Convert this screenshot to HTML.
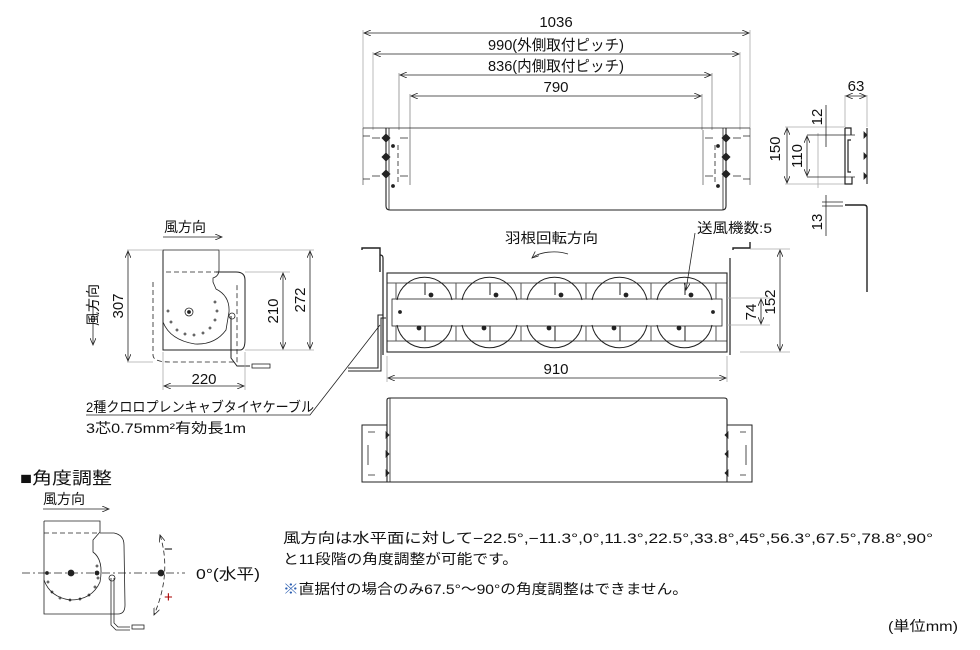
<!DOCTYPE html>
<html><head><meta charset="utf-8"><style>
html,body{margin:0;padding:0;background:#fff}
svg{display:block}
text{font-family:"Liberation Sans","Noto Sans CJK JP",sans-serif;fill:#111}
</style></head><body>
<svg width="980" height="650" viewBox="0 0 980 650" xmlns="http://www.w3.org/2000/svg">
<defs>
<marker id="a" markerWidth="8" markerHeight="6" refX="7" refY="3" orient="auto-start-reverse" markerUnits="userSpaceOnUse"><path d="M0,0 L7,3 L0,6" fill="none" stroke="#222" stroke-width="0.8"/></marker>
</defs>
<g stroke="#222" fill="none" stroke-width="0.8">
<line x1="363" y1="30" x2="363" y2="130" stroke="#aaa"/><line x1="750" y1="30" x2="750" y2="130" stroke="#aaa"/>
<line x1="373" y1="52" x2="373" y2="130" stroke="#aaa"/><line x1="740" y1="52" x2="740" y2="130" stroke="#aaa"/>
<line x1="399" y1="73" x2="399" y2="130" stroke="#888"/><line x1="712" y1="73" x2="712" y2="130" stroke="#888"/>
<line x1="410" y1="94" x2="410" y2="130" stroke="#888"/><line x1="702" y1="94" x2="702" y2="130" stroke="#888"/>
<line x1="364" y1="33" x2="749" y2="33" marker-start="url(#a)" marker-end="url(#a)"/>
<line x1="374" y1="54" x2="739" y2="54" marker-start="url(#a)" marker-end="url(#a)"/>
<line x1="400" y1="75" x2="711" y2="75" marker-start="url(#a)" marker-end="url(#a)"/>
<line x1="411" y1="96" x2="701" y2="96" marker-start="url(#a)" marker-end="url(#a)"/>
<line x1="363" y1="128" x2="750" y2="128"/>
<path d="M386,128 V206 Q386,210 390,210 H722 Q726,210 726,206 V128" stroke-width="1.1"/>
<line x1="389" y1="128" x2="389" y2="210"/><line x1="723" y1="128" x2="723" y2="210"/>
<path d="M363,128 V185 M410,130 V185 M703,130 V185 M750,128 V185" stroke="#666"/>
<path d="M363,136 H370 M363,179 H370 M750,136 H743 M750,179 H743 M372,138 H380 M400,138 H408 M372,176 H380 M400,176 H408 M705,138 H713 M733,138 H741 M705,176 H713 M733,176 H741"/>
<path d="M398,145 V185 M715,145 V185" stroke-dasharray="5,3"/>
<g fill="#222">
<path d="M386,134 l4,4 -4,4 -4,-4z M386,153 l4,4 -4,4 -4,-4z M386,170 l4,4 -4,4 -4,-4z"/>
<path d="M726,134 l4,4 -4,4 -4,-4z M726,153 l4,4 -4,4 -4,-4z M726,170 l4,4 -4,4 -4,-4z"/>
<circle cx="393" cy="146" r="1.5"/><circle cx="393" cy="186" r="1.5"/><circle cx="718" cy="146" r="1.5"/><circle cx="718" cy="186" r="1.5"/>
</g>
<line x1="818" y1="133" x2="818" y2="188" stroke="#aaa"/>
<line x1="785" y1="127" x2="845" y2="127" stroke="#aaa"/><line x1="785" y1="184" x2="845" y2="184" stroke="#aaa"/>
<line x1="787" y1="128" x2="787" y2="183" marker-start="url(#a)" marker-end="url(#a)"/>
<line x1="807" y1="135" x2="855" y2="135"/><line x1="807" y1="177" x2="855" y2="177"/>
<line x1="807" y1="136" x2="807" y2="176" marker-start="url(#a)" marker-end="url(#a)"/>
<line x1="826" y1="105" x2="826" y2="147"/>
<line x1="845" y1="95" x2="845" y2="127" stroke="#aaa"/><line x1="867" y1="95" x2="867" y2="127" stroke="#aaa"/>
<line x1="846" y1="96" x2="866" y2="96" marker-start="url(#a)" marker-end="url(#a)"/>
<path d="M845,128 H851 V135 M845,128 V184 H852 V177 M851,140 H848 V172 H851" stroke-width="1.2"/>
<path d="M867,128 V184" stroke-width="1.1"/>
<g fill="#222"><path d="M864,132 l3,3 -3,3z M864,153 l3,3 -3,3z M864,173 l3,3 -3,3z"/></g>
<path d="M845,205 H864 Q867,205 867,208 V292" stroke-width="1.4"/>
<line x1="826" y1="195" x2="826" y2="236"/>
<line x1="822" y1="202" x2="843" y2="202"/><line x1="822" y1="206" x2="843" y2="206"/>
<path d="M362,250 V248 H380 V272 M733,250 V248 H750 V242" stroke-width="1.4"/>
<path d="M380,255 Q383,255 383,258 V355" stroke-width="1.2"/>
<path d="M730,258 V355" stroke-width="1.2"/>
<rect x="387" y="273" width="340" height="79" stroke-width="1.1"/>
<line x1="387" y1="283" x2="727" y2="283"/><line x1="387" y1="341" x2="727" y2="341"/>
<rect x="392" y="299" width="330" height="27" fill="#fff"/>
<g stroke-width="1">
<path d="M397,300 A28,28 0 0 1 452,300 M397,325 A28,28 0 0 0 452,325"/>
<path d="M462,300 A28,28 0 0 1 517,300 M462,325 A28,28 0 0 0 517,325"/>
<path d="M527,300 A28,28 0 0 1 582,300 M527,325 A28,28 0 0 0 582,325"/>
<path d="M592,300 A28,28 0 0 1 647,300 M592,325 A28,28 0 0 0 647,325"/>
<path d="M657,300 A28,28 0 0 1 712,300 M657,325 A28,28 0 0 0 712,325"/>
<path d="M396,283 V299 M456,283 V299 M521,283 V299 M586,283 V299 M651,283 V299 M716,283 V299 M396,326 V341 M456,326 V341 M521,326 V341 M586,326 V341 M651,326 V341 M716,326 V341" stroke="#555"/>
<path d="M425,283 V295 M490,283 V295 M555,283 V295 M620,283 V295 M685,283 V295 M425,326 V341 M490,326 V341 M555,326 V341 M620,326 V341 M685,326 V341"/>
</g>
<g fill="#222"><circle cx="431" cy="295" r="2"/><circle cx="496" cy="295" r="2"/><circle cx="561" cy="295" r="2"/><circle cx="626" cy="295" r="2"/><circle cx="691" cy="295" r="2"/>
<circle cx="419" cy="328" r="2"/><circle cx="484" cy="328" r="2"/><circle cx="549" cy="328" r="2"/><circle cx="614" cy="328" r="2"/><circle cx="679" cy="328" r="2"/>
<circle cx="400" cy="312" r="1.5"/><circle cx="713" cy="312" r="1.5"/></g>
<path d="M383,315 H378 V368 H348" stroke-width="1.1"/><path d="M386,318 H381 V371 H348" stroke-width="1"/>
<path d="M568,254 A25,12 0 0 0 532,258" marker-end="url(#a)"/>
<line x1="695" y1="233" x2="686" y2="290" marker-end="url(#a)"/>
<line x1="727" y1="298" x2="770" y2="298" stroke="#aaa"/><line x1="727" y1="325" x2="770" y2="325" stroke="#aaa"/>
<line x1="750" y1="249" x2="790" y2="249" stroke="#aaa"/><line x1="740" y1="352" x2="790" y2="352" stroke="#aaa"/>
<line x1="761" y1="299" x2="761" y2="324" marker-start="url(#a)" marker-end="url(#a)"/>
<line x1="780" y1="250" x2="780" y2="351" marker-start="url(#a)" marker-end="url(#a)"/>
<line x1="387" y1="356" x2="387" y2="382" stroke="#aaa"/><line x1="727" y1="356" x2="727" y2="382" stroke="#aaa"/>
<line x1="388" y1="378" x2="726" y2="378" marker-start="url(#a)" marker-end="url(#a)"/>
<path d="M387,400 Q387,398 390,398 H724 Q727,398 727,400 V482 H387 Z" stroke-width="1.1"/>
<line x1="390" y1="398" x2="390" y2="482"/>
<path d="M387,425 H362 V482 H387 M727,425 H752 V482 H727" stroke-width="1"/>
<path d="M368,432 H375 M368,445 V465 M368,475 H375 M746,432 H740 M746,445 V465 M746,475 H740"/>
<g fill="#222"><path d="M386,432 l3,3 -3,3z M386,451 l3,3 -3,3z M386,470 l3,3 -3,3z M728,432 l-3,3 3,3z M728,451 l-3,3 3,3z M728,470 l-3,3 3,3z"/></g>
<polyline points="86,415 310,415 380,325"/>
<line x1="163" y1="237" x2="222" y2="237" marker-end="url(#a)"/>
<path d="M163,250 H219 V270 Q219,276 213,278 V282 L216,289 Q230,296 229,312 L226,330 Q215,345 195,344 Q170,340 163,322 Z" fill="none"/>
<path d="M163,250 V350 H240 Q245,350 245,340 V280 Q245,272 236,272 H216" stroke-width="1"/>
<path d="M166,272 H216 M153,282 V355 Q153,362 170,362 L237,362 V285" stroke-dasharray="5,3"/>
<circle cx="189" cy="312" r="4"/><circle cx="189" cy="312" r="1.5" fill="#222"/>
<g fill="none" stroke-width="0.7"><circle cx="168" cy="311" r="1"/><circle cx="171" cy="322" r="1"/><circle cx="177" cy="330" r="1"/><circle cx="185" cy="334" r="1"/><circle cx="194" cy="335" r="1"/><circle cx="203" cy="333" r="1"/><circle cx="210" cy="328" r="1"/><circle cx="215" cy="320" r="1"/><circle cx="217" cy="311" r="1"/><circle cx="215" cy="302" r="1"/></g>
<path d="M231,316 V358 L237,366 H250" stroke-width="1"/><circle cx="232" cy="316" r="3"/>
<rect x="252" y="364" width="18" height="4"/>
<line x1="127" y1="250" x2="163" y2="250" stroke="#aaa"/><line x1="127" y1="362" x2="153" y2="362" stroke="#aaa"/>
<line x1="128" y1="251" x2="128" y2="361" marker-start="url(#a)" marker-end="url(#a)"/>
<line x1="245" y1="272" x2="290" y2="272" stroke="#aaa"/><line x1="245" y1="350" x2="314" y2="350" stroke="#aaa"/><line x1="219" y1="250" x2="314" y2="250" stroke="#aaa"/>
<line x1="283" y1="273" x2="283" y2="349" marker-start="url(#a)" marker-end="url(#a)"/>
<line x1="310" y1="251" x2="310" y2="349" marker-start="url(#a)" marker-end="url(#a)"/>
<line x1="163" y1="352" x2="163" y2="390" stroke="#aaa"/><line x1="245" y1="352" x2="245" y2="390" stroke="#aaa"/>
<line x1="164" y1="386" x2="244" y2="386" marker-start="url(#a)" marker-end="url(#a)"/>
<line x1="93" y1="300" x2="93" y2="345" marker-end="url(#a)"/>
<line x1="43" y1="509" x2="109" y2="509" marker-end="url(#a)"/>
<path d="M44,521 H100 V532 L93,540 V552 Q104,560 100,582 Q92,600 70,600 Q50,597 44,580" />
<path d="M44,521 V614 H118 Q125,614 125,605 L124,545 Q124,535 114,533 L100,533" />
<line x1="44" y1="533" x2="100" y2="533" stroke-dasharray="5,3"/>
<line x1="22" y1="573" x2="185" y2="573" stroke-dasharray="8,3,2,3"/>
<circle cx="71" cy="573" r="3" fill="#222"/><circle cx="97" cy="573" r="2" fill="#222"/><circle cx="47" cy="573" r="1.5" fill="#222"/><circle cx="161" cy="573" r="3" fill="#222"/>
<path d="M160,535 Q172,573 154,615" stroke-dasharray="5,3" marker-start="url(#a)" marker-end="url(#a)"/>
<path d="M111,578 V625 L116,630 H130 M114,578 V623 L118,627 H130" />
<circle cx="112" cy="578" r="3"/>
<rect x="132" y="625" width="12" height="4"/>
<g fill="none" stroke-width="0.7"><circle cx="48" cy="582" r="1"/><circle cx="52" cy="592" r="1"/><circle cx="60" cy="598" r="1"/><circle cx="70" cy="600" r="1"/><circle cx="80" cy="599" r="1"/><circle cx="89" cy="595" r="1"/><circle cx="95" cy="587" r="1"/><circle cx="98" cy="578" r="1"/><circle cx="97" cy="566" r="1"/></g>
</g>
<g font-size="15">
<text x="556" y="27" text-anchor="middle">1036</text>
<text x="556" y="50" text-anchor="middle" textLength="136" lengthAdjust="spacingAndGlyphs">990(外側取付ピッチ)</text>
<text x="556" y="71" text-anchor="middle" textLength="136" lengthAdjust="spacingAndGlyphs">836(内側取付ピッチ)</text>
<text x="556" y="92" text-anchor="middle">790</text>
<text x="856" y="91" text-anchor="middle">63</text>
<text x="556" y="374" text-anchor="middle">910</text>
<text x="204" y="384" text-anchor="middle">220</text>
<text x="505" y="243" font-size="14" textLength="93" lengthAdjust="spacingAndGlyphs">羽根回転方向</text>
<text x="697" y="233" font-size="14" textLength="75" lengthAdjust="spacingAndGlyphs">送風機数:5</text>
<text x="164" y="232" font-size="14">風方向</text>
<text x="43" y="504" font-size="14">風方向</text>
<text x="86" y="412" font-size="14" textLength="228" lengthAdjust="spacingAndGlyphs">2種クロロプレンキャブタイヤケーブル</text>
<text x="86" y="433" font-size="14" textLength="160" lengthAdjust="spacingAndGlyphs">3芯0.75mm²有効長1m</text>
<text x="20" y="484" font-size="17" textLength="92" lengthAdjust="spacingAndGlyphs">■角度調整</text>
<text x="196" y="579" font-size="15" textLength="64" lengthAdjust="spacingAndGlyphs">0°(水平)</text>
<text x="164" y="554" font-size="15">−</text>
<text x="164" y="602" font-size="15" style="fill:#a00">+</text>
<text x="283" y="543" font-size="14" textLength="650" lengthAdjust="spacingAndGlyphs">風方向は水平面に対して−22.5°,−11.3°,0°,11.3°,22.5°,33.8°,45°,56.3°,67.5°,78.8°,90°</text>
<text x="283" y="564" font-size="14" textLength="235" lengthAdjust="spacingAndGlyphs">と11段階の角度調整が可能です。</text>
<text x="283" y="594" font-size="14" textLength="405" lengthAdjust="spacingAndGlyphs"><tspan style="fill:#2a5db0">※</tspan>直据付の場合のみ67.5°〜90°の角度調整はできません。</text>
<text x="888" y="631" font-size="14" textLength="70" lengthAdjust="spacingAndGlyphs">(単位mm)</text>
</g>
<g font-size="15">
<text transform="translate(780,149) rotate(-90)" text-anchor="middle">150</text>
<text transform="translate(802,156) rotate(-90)" text-anchor="middle">110</text>
<text transform="translate(822,117) rotate(-90)" text-anchor="middle">12</text>
<text transform="translate(822,222) rotate(-90)" text-anchor="middle">13</text>
<text transform="translate(123,306) rotate(-90)" text-anchor="middle">307</text>
<text transform="translate(278,311) rotate(-90)" text-anchor="middle">210</text>
<text transform="translate(305,300) rotate(-90)" text-anchor="middle">272</text>
<text transform="translate(756,312) rotate(-90)" text-anchor="middle">74</text>
<text transform="translate(775,302) rotate(-90)" text-anchor="middle">152</text>
<text transform="translate(98,305) rotate(-90)" text-anchor="middle" font-size="14">風方向</text>
</g>
</svg>
</body></html>
